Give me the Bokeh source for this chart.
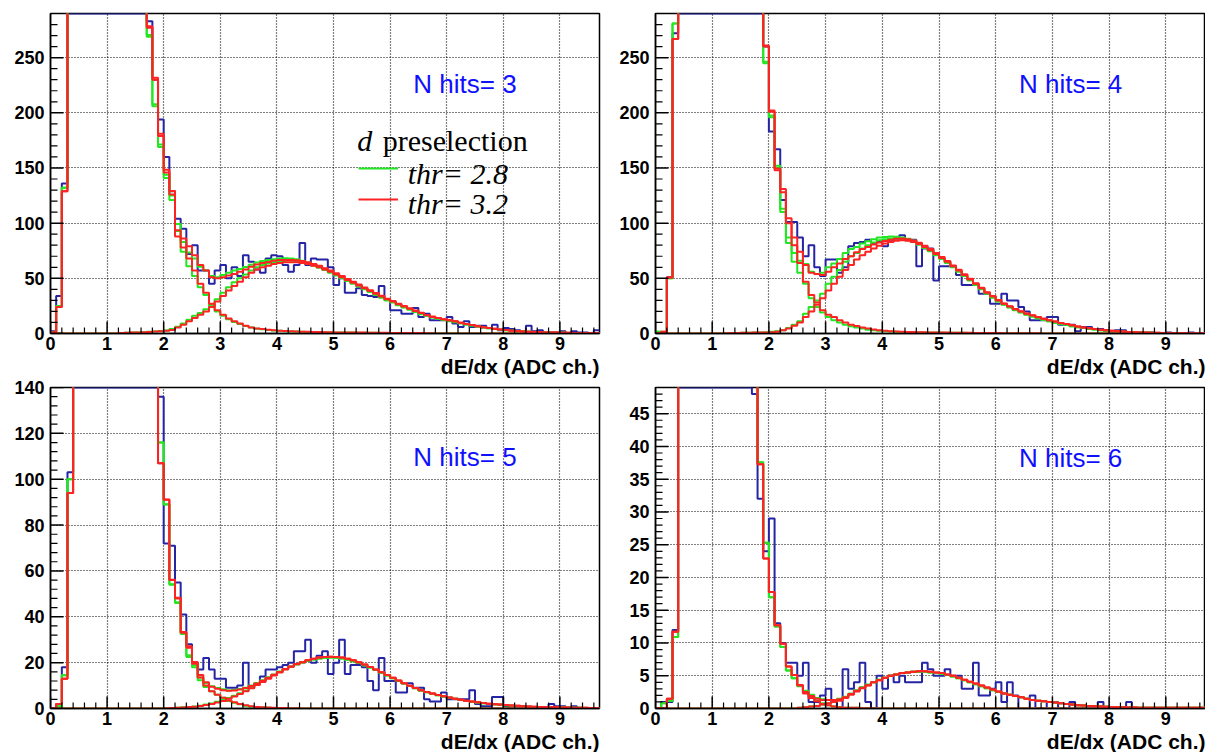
import numpy as np
from bokeh.plotting import figure
from bokeh.layouts import column, row
from bokeh.models import Label, Legend, LegendItem, Title, Range1d, SingleIntervalTicker
from bokeh.embed import file_html
from bokeh.resources import INLINE

NBINS = 97
XMAX = 9.7
edges = [round(i * 0.1, 1) for i in range(NBINS + 1)]

panel_titles = ["N hits= 3", "N hits= 4", "N hits= 5", "N hits= 6"]
y_max = [290, 290, 140, 49]
y_tick_step = [50, 50, 20, 5]
# bins that run off the top of the frame: data drawn at the frame edge,
# fitted components given an off-scale value (they continue above the frame)
off_scale = [300, 300, 145, 51]

# ---------------- N hits = 3 ----------------
data_3 = [2, 34, 136] + [290] * 14 + [
    283, 230, 194, 160, 129, 104, 95, 72, 80, 57, 57, 45, 57, 62, 50, 60, 52, 71, 65, 58,
    55, 68, 71, 70, 62, 56, 62, 82, 62, 68, 67, 67, 60, 44, 50, 37, 37, 41, 35, 34,
    33, 43, 31, 21, 21, 18, 18, 23, 15, 18, 12, 12, 12, 15, 9, 6, 11, 6, 7, 7,
    5, 8, 3, 5, 4, 3, 2, 7, 2, 3, 1, 1, 1, 2, 0, 2, 1, 1, 0, 3]
red_low_3 = [1, 24, 129] + [300] * 14 + [
    277, 230, 179, 146, 126, 88, 78, 68, 57, 45, 37, 27, 21, 17, 13.5, 11, 9, 7, 5.5, 4.5,
    4, 3.4, 3, 2.5, 2.2, 2, 1.8, 1.6, 1.5, 1.4, 1.3, 1.2, 1.1, 1.0, 1.0, 0.9, 0.9, 0.8, 0.8, 0.7,
    0.7, 0.6, 0.6, 0.5, 0.5, 0.5, 0.4, 0.4, 0.4, 0.3, 0.3] + [0] * 29
red_high_3 = [0] * 12 + [
    0.5, 0.6, 0.8, 1.0, 1.2, 1.4, 1.7, 2.0, 2.5, 3.2,
    5.5, 8, 11, 14, 17, 20, 24, 29, 34, 39,
    43, 47, 51, 55, 58, 60, 61.5, 63, 64, 64.5,
    64.5, 64.5, 64, 63, 61.5, 60, 58, 56, 53.5, 51,
    48.5, 46, 43.5, 41, 38.5, 36, 33.5, 31, 29, 26.5,
    24.5, 22.5, 20.5, 18.5, 16.5, 15, 14, 13, 12, 11,
    9.8, 8.7, 7.6, 6.6, 5.7, 4.9, 4.2, 3.6, 3.1, 2.6,
    2.2, 1.9, 1.6, 1.4, 1.2, 1.0, 0.9, 0.8, 0.7, 0.6,
    0.5, 0.4, 0.4, 0.3, 0.3]
green_low_3 = [1, 25, 132] + [300] * 14 + [
    269, 206, 169, 141, 121, 93, 74, 61, 52, 42, 35, 26, 20, 16, 13,
    10.5, 8.5, 6.8, 5.4, 4.4, 3.8, 3.2, 2.8, 2.4, 2.1, 1.9, 1.7, 1.5, 1.4, 1.3,
    1.2, 1.1, 1.0, 0.9, 0.9, 0.8, 0.8, 0.7, 0.7, 0.6, 0.6, 0.5, 0.5, 0.5, 0.4,
    0.4, 0.4, 0.3, 0.3, 0.3, 0.3, 0.2, 0.2, 0.2, 0.2] + [0] * 25
green_high_3 = [0] * 12 + [
    0.5, 0.6, 0.8, 1.0, 1.2, 1.5, 1.8, 2.2, 2.8, 4.0,
    6.2, 9, 12.5, 16, 18.5, 22, 26, 31, 37, 42,
    46.5, 50, 53.5, 57, 60, 62, 63.5, 64.5, 65.5, 66,
    66, 65.5, 64.5, 63, 61.5, 59.5, 57.5, 55, 52.5, 50,
    47.5, 45, 42.5, 40, 37.5, 35, 32.5, 30, 28, 25.5,
    23.5, 21.5, 19.5, 17.5, 16, 14.5, 13.3, 12.2, 11.2, 10.2,
    9.2, 8.2, 7.2, 6.3, 5.5, 4.8, 4.1, 3.5, 3.0, 2.5,
    2.1, 1.8, 1.5, 1.3, 1.1, 0.9, 0.8, 0.7, 0.6, 0.5,
    0.4, 0.4, 0.3, 0.3, 0.2]

# ---------------- N hits = 4 ----------------
data_4 = [0, 1, 51, 272] + [290] * 15 + [
    260, 183, 167, 121, 101, 101, 87, 70, 80, 60, 52, 67, 67, 55, 60,
    79, 82, 83, 85, 82, 83, 79, 85, 86, 89, 85, 85, 61, 77, 77,
    48, 61, 61, 61, 53, 44, 44, 44, 36, 36, 27, 27, 36, 30, 30,
    24, 20, 12, 12, 12, 15, 15, 8, 8, 8, 2, 6, 6, 4, 4,
    3, 1, 3, 3, 1, 1, 1, 0, 1, 0, 0, 1, 0, 0, 0, 1, 0, 0]
red_low_4 = [0, 1.5, 50.7, 267] + [300] * 15 + [
    260, 201, 148, 128, 100, 80, 64, 47, 35, 28, 21, 17, 15, 12, 10,
    8, 6.7, 5.5, 4.5, 3.6, 3, 2.4, 2, 1.8, 1.5, 1.4, 1.3, 1.2, 1.1, 1.0,
    0.9, 0.8, 0.8, 0.7, 0.7, 0.6, 0.6, 0.5, 0.5, 0.4, 0.4, 0.4, 0.3, 0.3, 0.3,
    0.2, 0.2, 0.2, 0.2, 0.1] + [0] * 28
red_high_4 = [0] * 12 + [
    0.3, 0.4, 0.5, 0.6, 0.7, 0.8, 0.9, 1.0, 1.2, 1.6,
    3, 4.5, 7, 10, 15, 20, 26, 32, 39, 45,
    51.5, 57.5, 62, 67, 71, 74, 77, 79.5, 81.5, 83,
    84, 84.5, 84, 83, 81, 78.5, 75.5, 72, 68.5, 65,
    61, 57, 53, 49, 45, 41, 37, 33.5, 30, 27,
    24.5, 22, 20, 18, 16.3, 14.8, 13.3, 12, 10.8, 9.6,
    8.5, 7.4, 6.4, 5.5, 4.7, 4.0, 3.4, 2.9, 2.4, 2.0,
    1.7, 1.4, 1.2, 1.0, 0.8, 0.7, 0.6, 0.5, 0.4, 0.3,
    0.3, 0.2, 0.2, 0.1, 0.1]
green_low_4 = [1.5, 1, 50, 281] + [300] * 15 + [
    245, 196, 150, 110, 82, 65, 55, 45, 32, 24, 19, 15, 12, 10, 8,
    6.5, 5.5, 4.5, 3.5, 3, 2.5, 2, 1.8, 1.6, 1.4, 1.3, 1.2, 1.1, 1.0, 0.9,
    0.8, 0.8, 0.7, 0.7, 0.6, 0.6, 0.5, 0.5, 0.4, 0.4, 0.4, 0.3, 0.3, 0.3, 0.2,
    0.2, 0.2, 0.2, 0.1, 0.1] + [0] * 28
green_high_4 = [0] * 12 + [
    0.3, 0.4, 0.5, 0.6, 0.7, 0.8, 1.0, 1.2, 1.5, 2,
    3, 5, 8, 11, 18, 24, 30, 36, 45, 51.5,
    57.5, 65, 70, 73, 77, 80, 82.5, 84.5, 85.5, 86,
    86, 85.5, 84.5, 83, 80.5, 77.5, 74.5, 71, 67.5, 64,
    60, 56, 52, 48, 44, 40, 36, 32.5, 29, 26,
    23.5, 21, 19, 17, 15.3, 13.8, 12.3, 11, 9.8, 8.7,
    7.6, 6.6, 5.7, 4.9, 4.2, 3.6, 3.0, 2.5, 2.1, 1.8,
    1.5, 1.3, 1.1, 0.9, 0.8, 0.6, 0.5, 0.4, 0.3, 0.3,
    0.2, 0.2, 0.1, 0.1, 0.1]

# ---------------- N hits = 5 ----------------
data_5 = [0, 2, 18, 103] + [140] * 15 + [
    136, 72, 71, 55, 41, 28, 20, 17, 22, 17, 13, 13, 9, 9, 10,
    20, 9, 11, 14, 17, 17, 18, 19, 20, 25, 25, 30, 20, 23, 25,
    15, 20, 30, 15, 19, 19, 18, 12, 8, 22, 12, 12, 7, 7, 11,
    9, 9, 4, 3, 3, 7, 4, 4, 4, 4, 8, 2, 1, 1, 5,
    5, 1, 0, 0, 1, 0, 0, 0, 0, 2, 1, 1, 0, 1, 0, 0, 0, 0]
red_low_5 = [0, 2, 13, 94] + [145] * 15 + [
    107, 91, 56, 48, 33, 26.5, 19.5, 13.5, 10, 7.5, 6, 4.7, 3.5, 2.7, 2,
    1.4, 1, 0.7, 0.5, 0.4, 0.3, 0.2, 0.2, 0.1, 0.1] + [0] * 53
red_high_5 = [0] * 20 + [
    0.1, 0.2, 0.3, 0.4, 0.6, 0.8, 1.1, 1.5, 2, 2.6,
    3.3, 4.2, 5.2, 6.3, 7.5, 8.8, 10.2, 11.6, 13, 14.4,
    15.7, 17, 18.2, 19.3, 20.2, 21, 21.7, 22.2, 22.5, 22.6,
    22.5, 22.2, 21.7, 21, 20.2, 19.2, 18.1, 17, 15.8, 14.6,
    13.4, 12.2, 11, 9.9, 8.9, 8, 7.2, 6.5, 5.9, 5.3,
    4.8, 4.3, 3.8, 3.4, 3.0, 2.7, 2.4, 2.1, 1.9, 1.7,
    1.5, 1.3, 1.2, 1.0, 0.9, 0.8, 0.7, 0.6, 0.5, 0.5,
    0.4, 0.4, 0.3, 0.3, 0.3, 0.2, 0.2]
green_low_5 = [0, 1, 14.5, 100] + [145] * 15 + [
    116, 89, 54, 46, 32.5, 22.5, 18, 12.3, 9.4, 7.5, 6, 4.7, 3.3, 2.5, 1.8,
    1.2, 0.8, 0.6, 0.4, 0.3, 0.2, 0.2, 0.1, 0.1, 0.1] + [0] * 53
green_high_5 = [0] * 20 + [
    0.1, 0.2, 0.3, 0.5, 0.7, 0.9, 1.2, 1.7, 2.2, 2.9,
    3.7, 4.6, 5.6, 6.7, 7.9, 9.2, 10.5, 11.9, 13.3, 14.6,
    15.9, 17.1, 18.2, 19.2, 20.1, 20.8, 21.4, 21.8, 22.1, 22.2,
    22.1, 21.8, 21.3, 20.6, 19.8, 18.9, 17.9, 16.8, 15.6, 14.4,
    13.2, 12, 10.9, 9.8, 8.8, 7.9, 7.1, 6.4, 5.8, 5.2,
    4.7, 4.2, 3.7, 3.3, 2.9, 2.6, 2.3, 2.0, 1.8, 1.6,
    1.4, 1.2, 1.1, 0.9, 0.8, 0.7, 0.6, 0.5, 0.5, 0.4,
    0.4, 0.3, 0.3, 0.3, 0.2, 0.2, 0.2]

# ---------------- N hits = 6 ----------------
data_6 = [0, 1, 1, 12] + [49] * 13 + [
    48, 32, 24, 29, 13, 10, 7, 7, 5, 7, 1, 1, 2, 3, 1, 0, 6, 3, 4, 7,
    1, 0, 5, 3, 5, 4, 5, 4, 4, 4, 7, 6, 5, 5, 6, 5, 5, 3, 3, 7,
    2, 2, 3, 4, 1, 4, 2, 0, 0, 2, 0, 0, 1, 1, 0, 0, 1, 0, 0, 0,
    0, 1, 0, 0, 0, 0, 1, 0, 0, 0, 0, 0, 0, 0, 0, 0, 0, 0, 0, 0]
red_low_6 = [0, 0, 1.5, 11.7] + [51] * 14 + [
    37.3, 22.9, 17.8, 12.7, 9.9, 6.4, 5.1, 3.5, 2.3, 1.6,
    1.1, 0.7, 0.5, 0.3, 0.2, 0.1, 0.1, 0.1, 0.05, 0.05] + [0] * 59
red_high_6 = [0] * 25 + [
    0.1, 0.2, 0.3, 0.4, 0.6, 0.8, 1.0, 1.2, 1.6, 2.1,
    2.6, 3.1, 3.5, 4.0, 4.3, 4.7, 5.0, 5.2, 5.4, 5.5,
    5.6, 5.7, 5.7, 5.6, 5.5, 5.4, 5.2, 5.0, 4.7, 4.4,
    4.1, 3.8, 3.5, 3.2, 2.9, 2.6, 2.3, 2.1, 1.9, 1.7,
    1.5, 1.3, 1.2, 1.1, 1.0, 0.9, 0.8, 0.7, 0.6, 0.5,
    0.45, 0.4, 0.35, 0.3, 0.25, 0.2, 0.2, 0.2, 0.15, 0.15] + [0.1] * 12
green_low_6 = [0, 0.8, 1.2, 10.9] + [51] * 14 + [
    37.6, 25.3, 17, 12.5, 9.4, 5.8, 4.6, 3.4, 2.5, 1.8,
    1.2, 0.8, 0.5, 0.3, 0.2, 0.1, 0.1, 0.1, 0.05, 0.05] + [0] * 59
green_high_6 = [0] * 25 + [
    0.1, 0.2, 0.3, 0.4, 0.6, 0.8, 1.0, 1.3, 1.7, 2.2,
    2.7, 3.2, 3.6, 4.0, 4.4, 4.7, 5.0, 5.2, 5.4, 5.5,
    5.6, 5.6, 5.6, 5.5, 5.4, 5.3, 5.1, 4.9, 4.6, 4.3,
    4.0, 3.7, 3.4, 3.1, 2.8, 2.5, 2.3, 2.1, 1.9, 1.7,
    1.5, 1.3, 1.2, 1.1, 1.0, 0.9, 0.8, 0.7, 0.6, 0.5,
    0.45, 0.4, 0.35, 0.3, 0.25, 0.2, 0.2, 0.2, 0.15, 0.15] + [0.1] * 12

panels = [
    (data_3, green_low_3, green_high_3, red_low_3, red_high_3),
    (data_4, green_low_4, green_high_4, red_low_4, red_high_4),
    (data_5, green_low_5, green_high_5, red_low_5, red_high_5),
    (data_6, green_low_6, green_high_6, red_low_6, red_high_6),
]
for pan in panels:
    for arr in pan:
        assert len(arr) == NBINS, len(arr)

BLUE = "#2424a4"
GREEN = "#22e622"
RED = "#ff2222"
SANS = "Liberation Sans"
SERIF = "Liberation Serif"

geom = [
    dict(width=602, height=378, min_border_left=50, min_border_right=3, min_border_top=13, min_border_bottom=45),
    dict(width=603, height=378, min_border_left=53, min_border_right=0, min_border_top=13, min_border_bottom=45),
    dict(width=602, height=374, min_border_left=50, min_border_right=3, min_border_top=9, min_border_bottom=44),
    dict(width=603, height=374, min_border_left=53, min_border_right=0, min_border_top=9, min_border_bottom=44),
]
frame_w = [549, 550, 549, 550]
frame_h = [320, 320, 321, 321]
label_y = [226, 226, 109.6, 38.3]


def closed(vals):
    return list(vals) + [vals[-1]]


figs = []
for k in range(4):
    data, gl, gh, rl, rh = panels[k]
    ymax = y_max[k]
    ystep = y_tick_step[k]
    p = figure(x_range=Range1d(0, XMAX), y_range=Range1d(0, ymax),
               output_backend="svg", toolbar_location=None, title=None,
               background_fill_color="white", border_fill_color="white", **geom[k])
    p.outline_line_color = "black"
    p.outline_line_width = 1.5

    xt = SingleIntervalTicker(interval=1, num_minor_ticks=5)
    yt = SingleIntervalTicker(interval=ystep, num_minor_ticks=5)
    p.xaxis.ticker = xt
    p.yaxis.ticker = yt
    p.xgrid.ticker = xt
    p.ygrid.ticker = yt
    for g in (p.xgrid[0], p.ygrid[0]):
        g.grid_line_color = "black"
        g.grid_line_dash = "1 2"
        g.grid_line_width = 1.2
        g.grid_line_alpha = 1.0
    for ax in (p.xaxis[0], p.yaxis[0]):
        ax.axis_line_color = "black"
        ax.axis_line_width = 1.5
        ax.major_tick_in = 0
        ax.major_tick_out = 0
        ax.minor_tick_in = 0
        ax.minor_tick_out = 0
        ax.major_label_text_font = SANS
        ax.major_label_text_font_style = "bold"
        ax.major_label_text_color = "black"
    p.yaxis.major_label_text_font_size = "18px"
    p.yaxis.major_label_standoff = 6
    p.xaxis.major_label_text_font_size = "18px"
    p.xaxis.major_label_standoff = 3

    p.step(edges, closed(data), mode="after", line_color=BLUE, line_width=2)
    gtot = [a + b for a, b in zip(gl, gh)]
    rtot = [a + b for a, b in zip(rl, rh)]
    p.step(edges, closed(gl), mode="after", line_color=GREEN, line_width=2)
    p.step(edges, closed(gh), mode="after", line_color=GREEN, line_width=2)
    g_r = p.step(edges, closed(gtot), mode="after", line_color=GREEN, line_width=2)
    p.step(edges, closed(rl), mode="after", line_color=RED, line_width=2)
    p.step(edges, closed(rh), mode="after", line_color=RED, line_width=2)
    r_r = p.step(edges, closed(rtot), mode="after", line_color=RED, line_width=2)

    # inward tick marks (ROOT style), lengths converted from pixels to data units
    x_major = [float(v) for v in np.arange(0, 10, 1.0)]
    x_minor = [float(v) for v in np.round(np.arange(0, XMAX, 0.2), 1) if abs(v - round(v)) > 1e-6]
    y_major = [float(v) for v in np.arange(0, ymax + 1e-9, ystep)]
    y_minor = [float(v) for v in np.round(np.arange(0, ymax, ystep / 5.0), 3)
               if abs(v / ystep - round(v / ystep)) > 1e-6]
    px_x = XMAX / frame_w[k]
    px_y = ymax / frame_h[k]
    p.segment(x0=x_major, y0=[0] * len(x_major), x1=x_major, y1=[12 * px_y] * len(x_major),
              line_color="black", line_width=1.5)
    p.segment(x0=x_minor, y0=[0] * len(x_minor), x1=x_minor, y1=[6 * px_y] * len(x_minor),
              line_color="black", line_width=1.2)
    p.segment(x0=[0] * len(y_major), y0=y_major, x1=[13 * px_x] * len(y_major), y1=y_major,
              line_color="black", line_width=1.5)
    p.segment(x0=[0] * len(y_minor), y0=y_minor, x1=[7 * px_x] * len(y_minor), y1=y_minor,
              line_color="black", line_width=1.2)

    p.add_layout(Label(x=6.41, y=label_y[k], text=panel_titles[k], text_font=SANS,
                       text_font_size="26px", text_color="#1010ff",
                       text_baseline="alphabetic"))

    p.add_layout(Title(text="dE/dx (ADC ch.)", align="right", text_font=SANS,
                       text_font_style="bold", text_font_size="21px",
                       text_color="black", standoff=0), "below")

    if k == 0:
        p.add_layout(Label(x=5.42, y=175, text="d", text_font=SERIF,
                           text_font_style="italic", text_font_size="30px",
                           text_color="black", text_baseline="alphabetic"))
        p.add_layout(Label(x=5.87, y=175, text="preselection", text_font=SERIF,
                           text_font_size="30px", text_color="black",
                           text_baseline="alphabetic"))
        p.add_layout(Label(x=6.31, y=145, text="thr= 2.8", text_font=SERIF,
                           text_font_style="italic", text_font_size="30px",
                           text_color="black", text_baseline="alphabetic"))
        p.add_layout(Label(x=6.31, y=117.8, text="thr= 3.2", text_font=SERIF,
                           text_font_style="italic", text_font_size="30px",
                           text_color="black", text_baseline="alphabetic"))
        for rend, loc in ((g_r, (308, 160)), (r_r, (308, 129))):
            leg = Legend(items=[LegendItem(label=" ", renderers=[rend])],
                         location=loc, orientation="vertical",
                         background_fill_alpha=0, border_line_alpha=0,
                         padding=0, margin=0, spacing=0,
                         glyph_width=40, glyph_height=10, label_height=10,
                         label_standoff=0, label_width=1,
                         label_text_font_size="1px")
            p.add_layout(leg, "center")
    figs.append(p)

layout = column(row(figs[0], figs[1]), row(figs[2], figs[3]))
open("out.html", "w").write(file_html(layout, INLINE))
